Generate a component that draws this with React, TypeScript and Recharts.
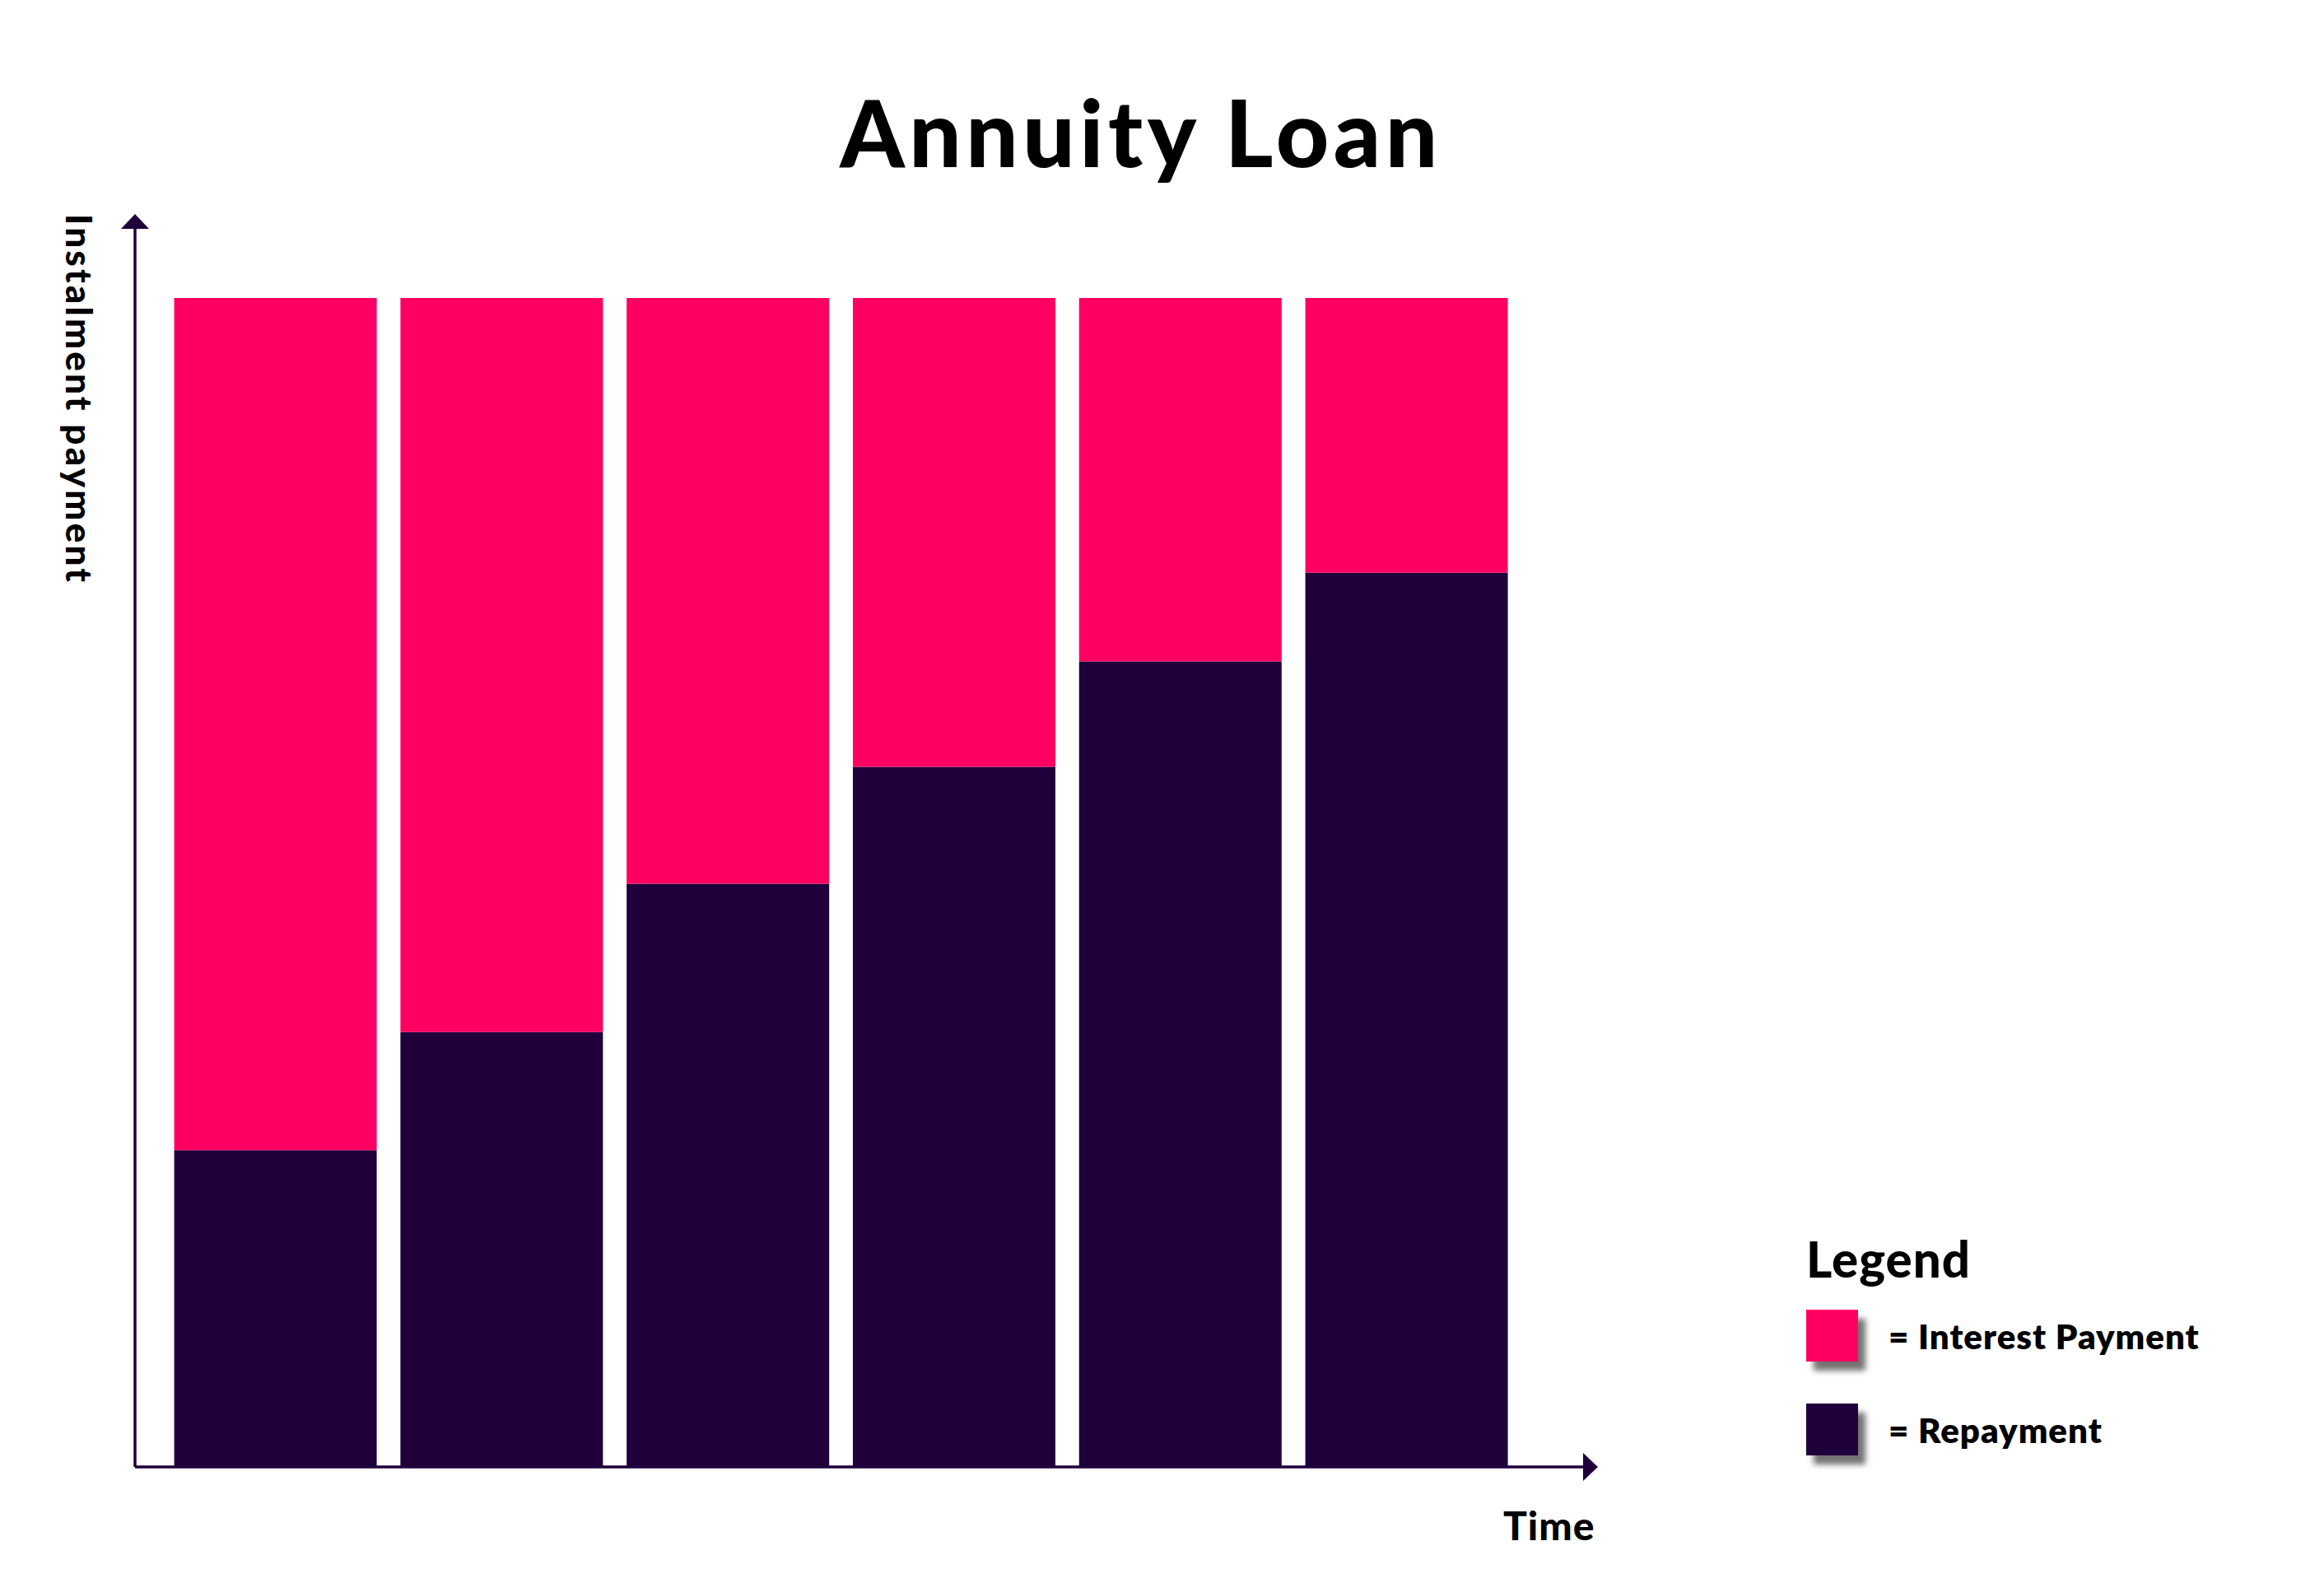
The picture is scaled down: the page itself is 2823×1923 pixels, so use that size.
import { BarChart, Bar, XAxis, YAxis, Legend } from "recharts";

const periods = ["1", "2", "3", "4", "5", "6"];
const repayment = [27.1, 37.2, 49.9, 59.9, 68.9, 76.5];
const interest = [72.9, 62.8, 50.1, 40.1, 31.1, 23.5];

const PINK = "#ff0062";
const DARK = "#1f003b";
const FONT = "Lato, 'Open Sans', sans-serif";

const data = periods.map((p, i) => ({
  period: p,
  repayment: repayment[i],
  interest: interest[i],
}));

const legendItems = [
  { label: "= Interest Payment", color: PINK },
  { label: "= Repayment", color: DARK },
];

function LegendBox() {
  return (
    <div style={{ fontFamily: FONT, color: "#000" }}>
      <div style={{ fontSize: 60, fontWeight: 900, lineHeight: "60px", height: 60, letterSpacing: 1 }}>
        Legend
      </div>
      {legendItems.map((item, i) => (
        <div
          key={item.label}
          style={{
            display: "flex",
            alignItems: "center",
            marginTop: i === 0 ? 32 : 51,
          }}
        >
          <div
            style={{
              width: 63,
              height: 63,
              background: item.color,
              boxShadow: "9px 11px 7px rgba(0,0,0,0.55)",
            }}
          />
          <span
            style={{
              marginLeft: 37,
              fontSize: 42,
              fontWeight: 800,
              lineHeight: "42px",
              letterSpacing: 1,
            }}
          >
            {item.label}
          </span>
        </div>
      ))}
    </div>
  );
}

export default function App() {
  return (
    <div style={{ position: "relative", width: 2807, height: 1907, background: "#fff" }}>
      <svg width={0} height={0} style={{ position: "absolute" }}>
        <defs>
          <marker
            id="axisArrow"
            viewBox="0 0 18 34"
            refX={0}
            refY={17}
            markerWidth={18}
            markerHeight={34}
            markerUnits="userSpaceOnUse"
            orient="auto-start-reverse"
          >
            <path d="M0,0 L18,17 L0,34 z" fill={DARK} />
          </marker>
        </defs>
      </svg>

      <div
        style={{
          position: "absolute",
          left: 0,
          width: 2756,
          top: 96,
          textAlign: "center",
          fontFamily: FONT,
          fontWeight: 900,
          fontSize: 112,
          lineHeight: "112px",
          letterSpacing: 5.5,
          color: "#000",
        }}
      >
        Annuity Loan
      </div>

      <div
        style={{
          position: "absolute",
          left: 111,
          top: 252,
          whiteSpace: "nowrap",
          fontFamily: FONT,
          fontWeight: 900,
          fontSize: 44,
          lineHeight: "44px",
          letterSpacing: 3.2,
          transform: "rotate(90deg)",
          transformOrigin: "0 0",
          color: "#000",
        }}
      >
        Instalment payment
      </div>

      <div
        style={{
          position: "absolute",
          left: 1818,
          top: 1821,
          fontFamily: FONT,
          fontWeight: 900,
          fontSize: 48,
          lineHeight: "48px",
          letterSpacing: 1,
          color: "#000",
        }}
      >
        Time
      </div>

      <BarChart
        width={2807}
        height={1907}
        data={data}
        margin={{ top: 270, right: 892, left: 96, bottom: 103 }}
        barSize={246}
      >
        <XAxis
          dataKey="period"
          tick={false}
          tickLine={false}
          padding={{ left: 33.6, right: 76.6 }}
          axisLine={{ stroke: DARK, strokeWidth: 3.5, markerEnd: "url(#axisArrow)" }}
        />
        <YAxis
          domain={[0, 100]}
          tick={false}
          tickLine={false}
          padding={{ top: 84 }}
          axisLine={{ stroke: DARK, strokeWidth: 3.5, markerStart: "url(#axisArrow)" }}
        />
        <Legend
          layout="vertical"
          align="center"
          verticalAlign="middle"
          content={() => <LegendBox />}
          wrapperStyle={{ left: 2186, top: 1491, width: 560, height: 300 }}
        />
        <Bar dataKey="repayment" stackId="a" fill={DARK} isAnimationActive={false} />
        <Bar dataKey="interest" stackId="a" fill={PINK} isAnimationActive={false} />
      </BarChart>
    </div>
  );
}
